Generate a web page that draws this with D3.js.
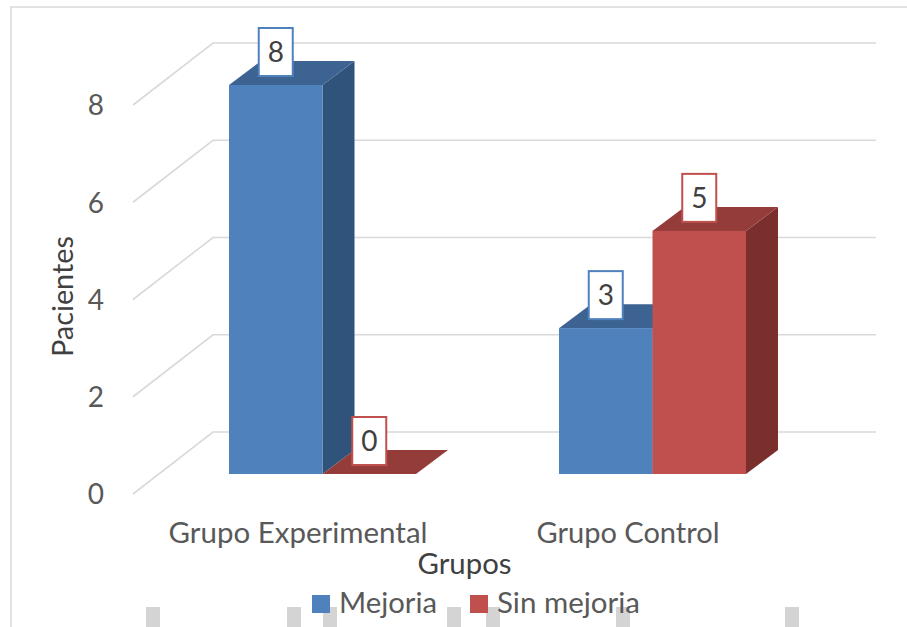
<!DOCTYPE html>
<html>
<head>
<meta charset="utf-8">
<script src="https://cdn.jsdelivr.net/npm/d3@7"></script>
<style>
  html, body { margin: 0; padding: 0; background: #ffffff; }
  svg { display: block; font-family: Lato, "Open Sans", sans-serif; }
</style>
</head>
<body>
<svg id="chart" width="907" height="627"></svg>
<script>
// Pacientes con y sin mejoria por grupo
const categories = ["Grupo Experimental", "Grupo Control"];
const seriesNames = ["Mejoria", "Sin mejoria"];
const mejoria = [8, 3];
const sinMejoria = [0, 5];
const yTicks = [0, 2, 4, 6, 8];

const seriesValues = [mejoria, sinMejoria];
const palette = [
  { front: "#4f81bd", top: "#3c6392", side: "#30537c" },
  { front: "#c0504d", top: "#943c3a", side: "#7a2f2d" }
];

const svg = d3.select("#chart");

// oblique projection of the 3D box: depth offsets in screen pixels
const wall = { dx: 80, dy: -62 };        // back wall relative to front plane
const barFront = { dx: 24.5, dy: -20 };  // front face of the columns
const barDepth = { dx: 32, dy: -24 };    // thickness of each column

const plotLeft = 133, plotRight = 796;
const x0 = d3.scaleBand().domain(categories).range([plotLeft, plotLeft + 660]);
const barsSpan = 187;
const x1 = d3.scaleBand().domain(seriesNames).range([0, barsSpan]);
const y = d3.scaleLinear().domain([0, 8]).range([494, 105]);

// outer frame
svg.append("path")
  .attr("d", "M11,627 L11,7 L907,7")
  .attr("fill", "none").attr("stroke", "#d9d9d9").attr("stroke-width", 1.5);

// gridlines: back wall and the slanted side-wall segment
const grid = svg.append("g").attr("stroke", "#d9d9d9").attr("stroke-width", 1.6).attr("fill", "none");
yTicks.forEach(v => {
  grid.append("path").attr("d",
    `M${plotLeft},${y(v)} L${plotLeft + wall.dx},${y(v) + wall.dy} L${plotRight + wall.dx},${y(v) + wall.dy}`);
});

// y axis labels
const yAxis = d3.axisLeft(y).tickValues(yTicks).tickSize(0).tickPadding(8).tickFormat(d3.format("d"));
const gy = svg.append("g").attr("transform", "translate(112,0)").call(yAxis);
gy.select(".domain").remove();
gy.selectAll("text")
  .attr("font-family", "Lato, 'Open Sans', sans-serif")
  .attr("font-size", 28).attr("fill", "#595959").attr("dy", "0.35em");

// columns
const bars = [];
categories.forEach((c, ci) => {
  seriesNames.forEach((s, si) => {
    bars.push({ cat: c, ser: s, si, value: seriesValues[si][ci] });
  });
});

const gBars = svg.append("g");
bars.forEach(b => {
  const xa = x0(b.cat) + (x0.bandwidth() - barsSpan) / 2 + x1(b.ser) + barFront.dx;
  const xb = xa + x1.bandwidth();
  const yt = y(b.value) + barFront.dy;
  const yb = y(0) + barFront.dy;
  const col = palette[b.si];
  const g = gBars.append("g");
  // right side face
  g.append("path").attr("fill", col.side).attr("d",
    `M${xb},${yt} L${xb + barDepth.dx},${yt + barDepth.dy} L${xb + barDepth.dx},${yb + barDepth.dy} L${xb},${yb} Z`);
  // top face
  g.append("path").attr("fill", col.top).attr("d",
    `M${xa},${yt} L${xb},${yt} L${xb + barDepth.dx},${yt + barDepth.dy} L${xa + barDepth.dx},${yt + barDepth.dy} Z`);
  // front face
  g.append("rect").attr("x", xa).attr("y", yt).attr("width", xb - xa).attr("height", yb - yt)
    .attr("fill", col.front);
  b.cx = (xa + xb) / 2;
  b.top = yt;
});

// value labels in outlined boxes
const gLab = svg.append("g");
bars.forEach(b => {
  const w = 34, h = 48;
  gLab.append("rect")
    .attr("x", b.cx - w / 2).attr("y", b.top - 9 - h)
    .attr("width", w).attr("height", h)
    .attr("fill", "#ffffff").attr("stroke", palette[b.si].front).attr("stroke-width", 2);
  gLab.append("text")
    .attr("x", b.cx).attr("y", b.top - 9 - h / 2).attr("dy", "0.36em")
    .attr("text-anchor", "middle").attr("font-size", 28).attr("fill", "#404040")
    .text(b.value);
});

// category labels
const catWidths = { "Grupo Experimental": 259, "Grupo Control": 183 };
svg.append("g").selectAll("text").data(categories).join("text")
  .attr("x", d => x0(d) + x0.bandwidth() / 2)
  .attr("y", 543)
  .attr("text-anchor", "middle")
  .attr("font-size", 28).attr("fill", "#595959")
  .attr("textLength", d => catWidths[d]).attr("lengthAdjust", "spacingAndGlyphs")
  .text(d => d);

// axis titles
const midX = (plotLeft + plotRight) / 2;
svg.append("text")
  .attr("x", midX).attr("y", 574).attr("text-anchor", "middle")
  .attr("font-size", 28).attr("fill", "#404040")
  .attr("textLength", 94).attr("lengthAdjust", "spacingAndGlyphs")
  .text("Grupos");

svg.append("text")
  .attr("transform", `translate(73,${(y(0) + y(8)) / 2 - 3}) rotate(-90)`)
  .attr("text-anchor", "middle")
  .attr("font-size", 28).attr("fill", "#404040")
  .attr("textLength", 121).attr("lengthAdjust", "spacingAndGlyphs")
  .text("Pacientes");

// light tabs along the lower edge
const tabsX = [146, 287, 323, 447, 486, 616, 785];
svg.append("g").selectAll("rect").data(tabsX).join("rect")
  .attr("x", d => d).attr("y", 607).attr("width", 14).attr("height", 20)
  .attr("fill", "#d4d4d4");

// legend
const legendWidths = [98, 143];
const sw = 18, gapTxt = 9, gapItem = 33;
const legendTotal = legendWidths.reduce((a, w) => a + sw + gapTxt + w, 0) + gapItem;
let lx = 476 - legendTotal / 2;
const legend = svg.append("g");
seriesNames.forEach((s, i) => {
  legend.append("rect").attr("x", lx).attr("y", 595).attr("width", sw).attr("height", sw)
    .attr("fill", palette[i].front);
  legend.append("text").attr("x", lx + sw + gapTxt).attr("y", 613)
    .attr("font-size", 28).attr("fill", "#595959")
    .attr("textLength", legendWidths[i]).attr("lengthAdjust", "spacingAndGlyphs")
    .text(s);
  lx += sw + gapTxt + legendWidths[i] + gapItem;
});
</script>
</body>
</html>
